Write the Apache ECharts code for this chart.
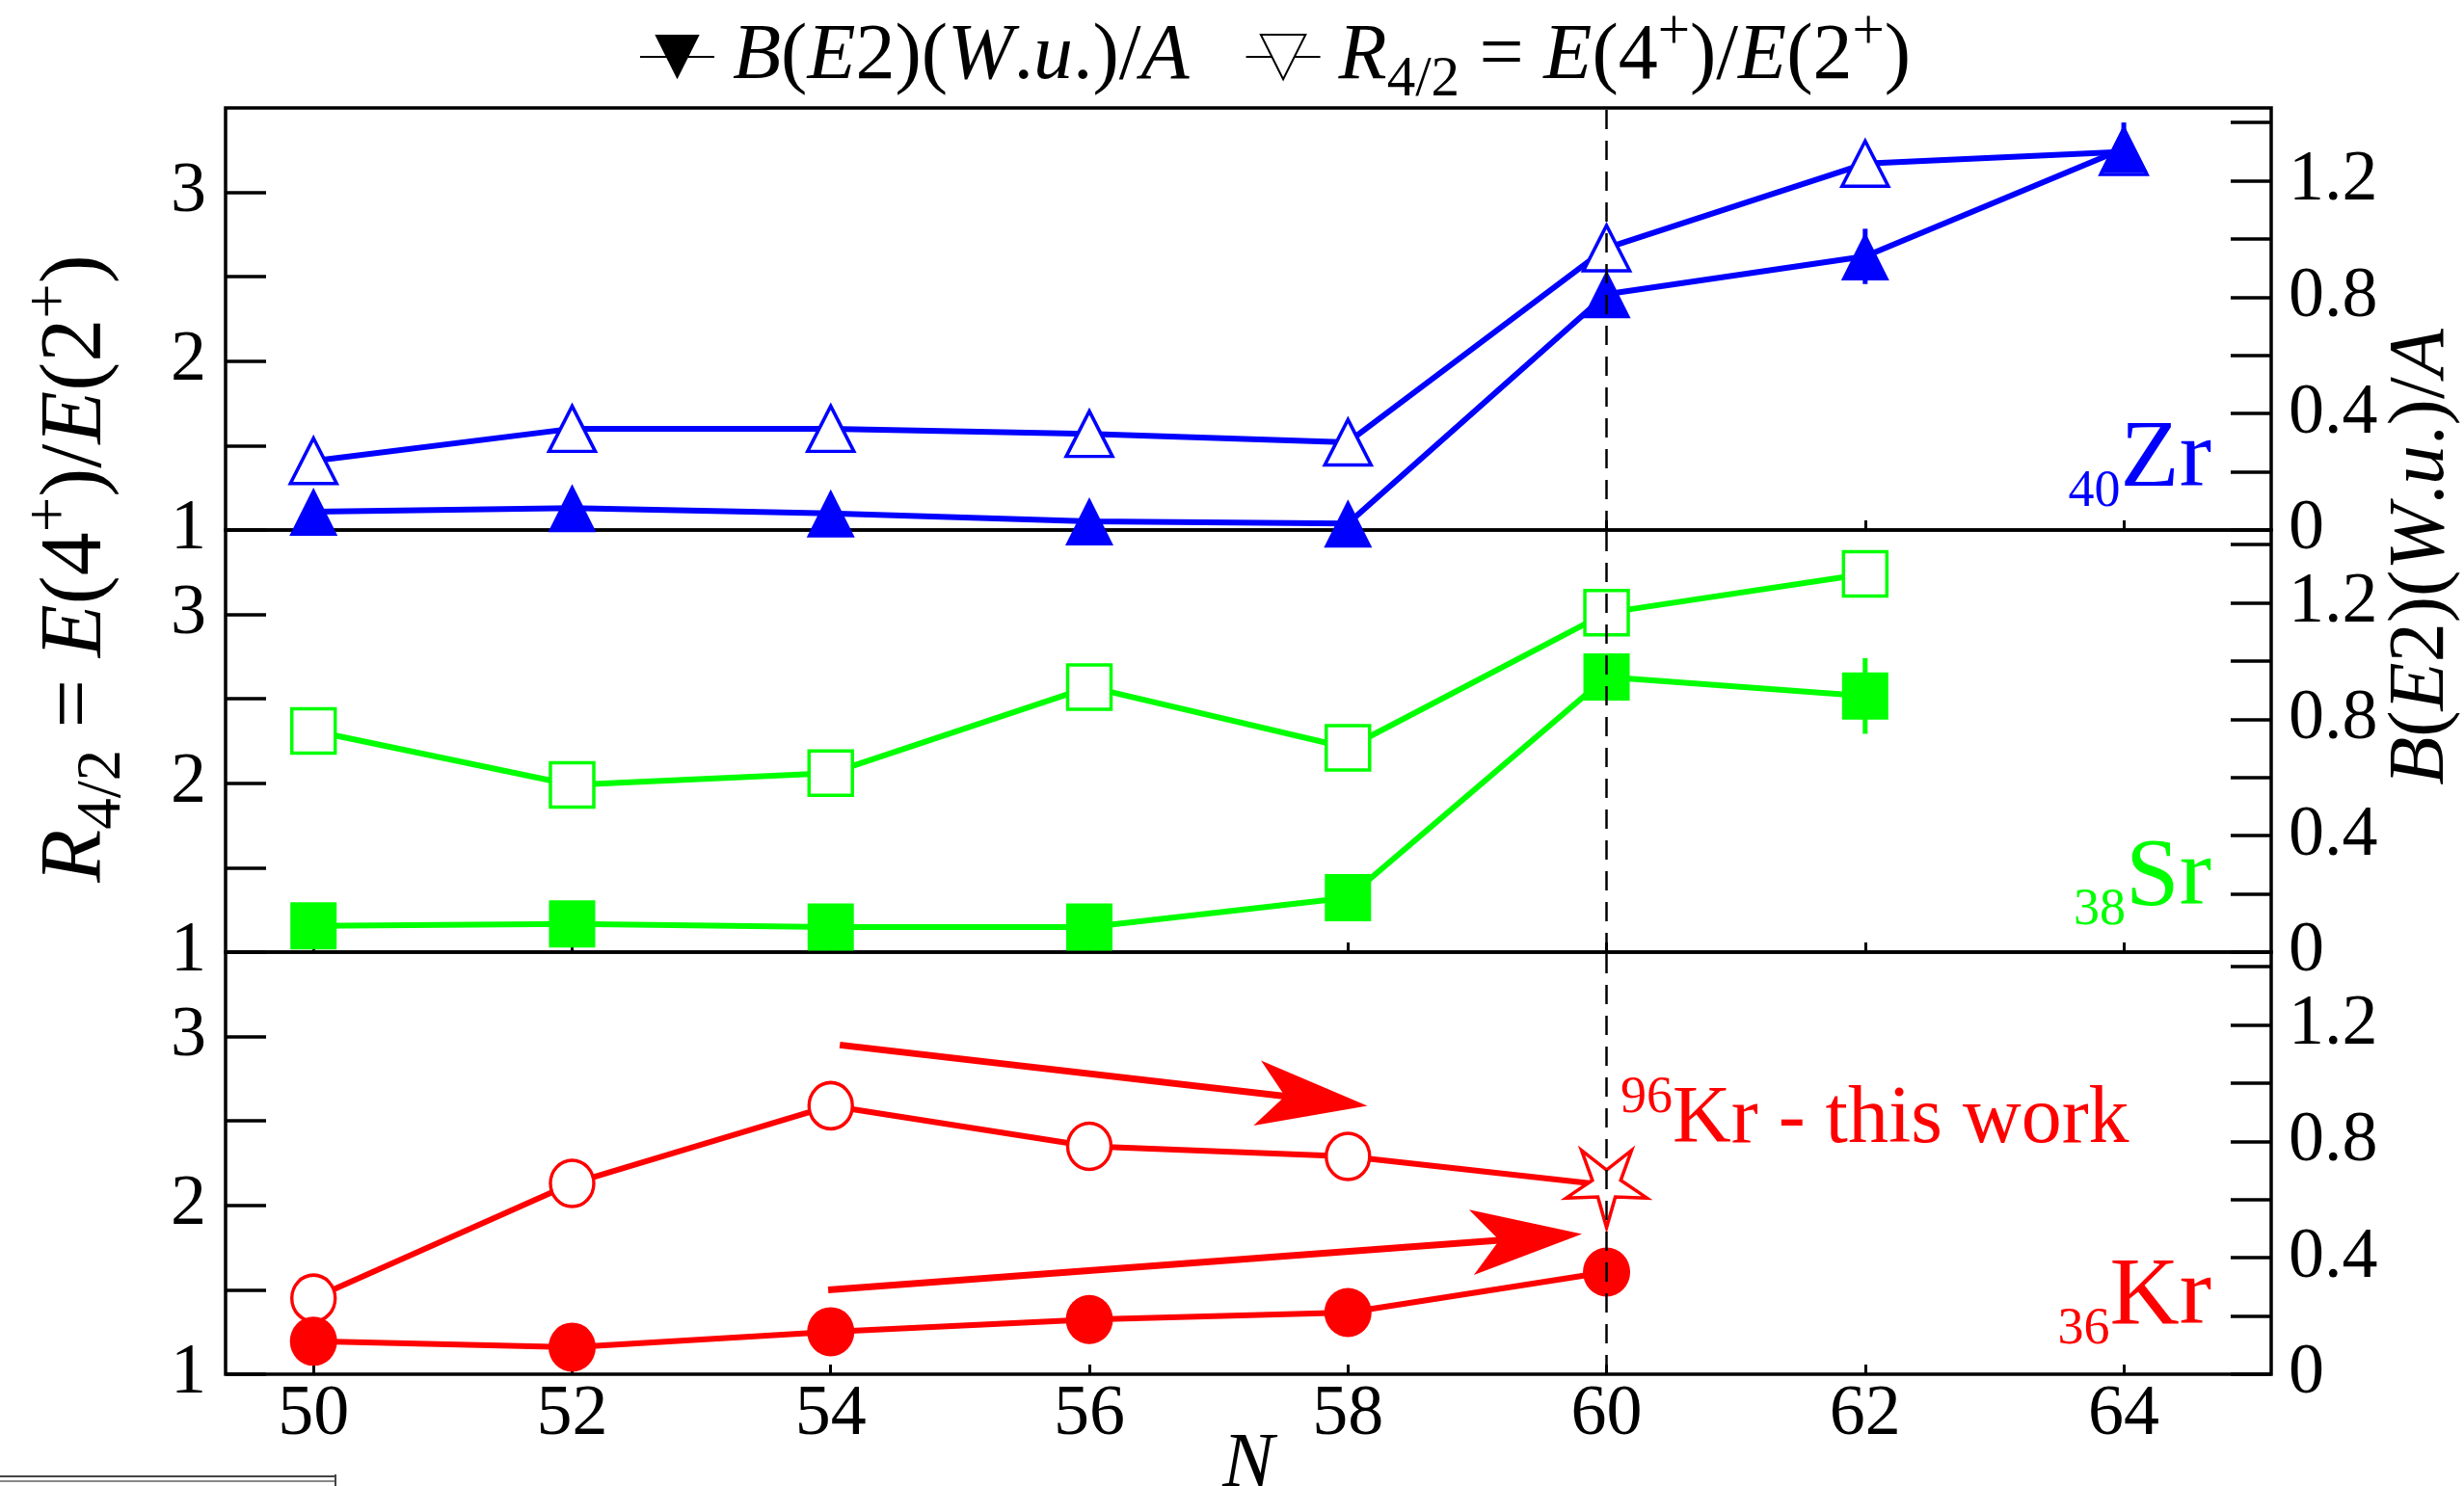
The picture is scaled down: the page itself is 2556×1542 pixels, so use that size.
<!DOCTYPE html>
<html>
<head>
<meta charset="utf-8">
<script src="https://cdn.jsdelivr.net/npm/echarts@6/dist/echarts.min.js"></script>
<style>
html,body{margin:0;padding:0;background:#fff;}
#chart{width:2556px;height:1542px;}
</style>
</head>
<body>
<div id="chart"></div>
<script>
// ---------------- data ----------------
const N_TICKS = [50, 52, 54, 56, 58, 60, 62, 64];
const R_TICKS = [1, 1.5, 2, 2.5, 3];
const R_LABELS = [1, 2, 3];
const B_TICKS = [0, 0.2, 0.4, 0.6, 0.8, 1, 1.2, 1.4];
const B_LABELS = [0, 0.4, 0.8, 1.2];

const zrN   = [50, 52, 54, 56, 58, 60, 62, 64];
const zrR42 = [1.41, 1.60, 1.60, 1.57, 1.52, 2.67, 3.17, 3.24];
const zrBE2 = [0.063, 0.075, 0.057, 0.030, 0.022, 0.81, 0.94, 1.31];
const zrErrN = [62, 64];
const zrErr  = [0.095, 0.09];

const srN   = [50, 52, 54, 56, 58, 60, 62];
const srR42 = [2.31, 1.99, 2.06, 2.57, 2.21, 3.01, 3.24];
const srBE2 = [0.090, 0.097, 0.086, 0.086, 0.187, 0.945, 0.88];
const srErrN = [62];
const srErr  = [0.13];

const krN   = [50, 52, 54, 56, 58, 60];
const krR42 = [1.45, 2.13, 2.59, 2.35, 2.29, 2.12];
const krBE2 = [0.113, 0.093, 0.146, 0.188, 0.212, 0.351];
const krThisWorkN = 60;   // 96Kr R4/2, this work

// trend arrows in the Kr panel (N, R4/2)
const arrowFrom = [[54.07, 2.95], [53.98, 1.50]];
const arrowTo   = [[58.15, 2.59], [59.81, 1.83]];

const X_MIN = 49.32, X_MAX = 65.14;
const R_MIN = 1, R_MAX = 3.5;
const B_MIN = 0, B_MAX = 1.45;

// ---------------- styling ----------------
const ZR = '#0000ff', SR = '#00ff00', KR = '#ff0000';
const FONT = "'Liberation Serif', 'Times New Roman', 'DejaVu Serif', serif";
const STAR = 'path://M0,50 L10.29,14.16 L47.55,15.45 L16.64,-5.41 L29.39,-40.45 L0,-17.5 L-29.39,-40.45 L-16.64,-5.41 L-47.55,15.45 L-10.29,14.16 Z';
const DOWN_TRI = 'path://M0,0 L10,0 L5,10 Z';

function mathRich(fs, color) {
  const c = color || '#000';
  return {
    i:   {fontFamily: FONT, fontStyle: 'italic', fontSize: fs, lineHeight: fs * 1.32, fill: c, color: c},
    n:   {fontFamily: FONT, fontSize: fs, lineHeight: fs * 1.32, fill: c, color: c},
    sub: {fontFamily: FONT, fontSize: fs * 0.72, lineHeight: fs * 0.68, verticalAlign: 'bottom', fill: c, color: c},
    sup: {fontFamily: FONT, fontSize: fs * 0.72, lineHeight: fs * 0.4, verticalAlign: 'top', fill: c, color: c},
    gap: {width: 14, fontSize: fs}
  };
}
const TXT_BE2 = '{i|B}{n|(}{i|E}{n|2)(}{i|W}{n|.}{i|u}{n|.)/}{i|A}';
const TXT_R42 = '{i|R}{sub|4/2}{n| = }{i|E}{n|(4}{sup|+}{n|)/}{i|E}{n|(2}{sup|+}{n|)}';

const GRID_TOPS = [112, 550, 988];
const GRID_H = 438;

function pairs(xs, ys) { return xs.map((x, i) => [x, ys[i]]); }
function errData(ns, errs, xs, ys) {
  return ns.map((n, k) => [n, ys[xs.indexOf(n)], errs[k]]);
}

const dashed60 = {
  silent: true, symbol: ['none', 'none'], label: {show: false},
  lineStyle: {color: '#000', width: 2.5, type: [20, 12]},
  data: [{xAxis: 60}]
};

function openStyle(c) { return {color: '#fff', borderColor: c, borderWidth: 3.5}; }

function errSeries(grid, data, color) {
  return {
    type: 'custom', xAxisIndex: grid, yAxisIndex: grid * 2 + 1, z: 1, silent: true,
    data: data,
    renderItem: function (params, api) {
      const x = api.value(0), y = api.value(1), e = api.value(2);
      const p0 = api.coord([x, y - e]), p1 = api.coord([x, y + e]);
      return {type: 'line', shape: {x1: p0[0], y1: p0[1], x2: p1[0], y2: p1[1]},
              style: {stroke: color, lineWidth: 5}};
    }
  };
}

// ---------------- axes ----------------
const grids = [], xAxes = [], yAxes = [];
for (let g = 0; g < 3; g++) {
  grids.push({left: 234, right: 200, top: GRID_TOPS[g], height: GRID_H,
              outerBoundsMode: 'none', containLabel: false,
              show: true, borderColor: '#000', borderWidth: 3.5, backgroundColor: 'transparent'});
  xAxes.push({
    type: 'value', gridIndex: g, min: X_MIN, max: X_MAX,
    axisLine: {show: false}, splitLine: {show: false},
    axisTick: {show: true, inside: true, length: 10, customValues: N_TICKS, lineStyle: {color: '#000', width: 3}},
    axisLabel: {show: g === 2, customValues: N_TICKS, fontFamily: FONT, fontSize: 74, color: '#000', margin: 6},
    name: g === 2 ? 'N' : '', nameLocation: 'middle', nameGap: 55, nameMoveOverlap: false,
    nameTextStyle: {fontFamily: FONT, fontStyle: 'italic', fontSize: 80, color: '#000'}
  });
  yAxes.push({
    type: 'value', gridIndex: g, position: 'left', min: R_MIN, max: R_MAX,
    axisLine: {show: false}, splitLine: {show: false},
    axisTick: {show: true, inside: true, length: 42, customValues: R_TICKS, lineStyle: {color: '#000', width: 3.5}},
    axisLabel: {customValues: R_LABELS, fontFamily: FONT, fontSize: 74, color: '#000', margin: 20}
  });
  yAxes.push({
    type: 'value', gridIndex: g, position: 'right', min: B_MIN, max: B_MAX,
    axisLine: {show: false}, splitLine: {show: false},
    axisTick: {show: true, inside: true, length: 42, customValues: B_TICKS, lineStyle: {color: '#000', width: 3.5}},
    axisLabel: {customValues: B_LABELS, fontFamily: FONT, fontSize: 74, color: '#000', margin: 18}
  });
}

// ---------------- series ----------------
const LW = 6;
const series = [];
// legend-only series
series.push({type: 'line', name: 'BE2', xAxisIndex: 0, yAxisIndex: 0, data: [],
  symbol: DOWN_TRI, itemStyle: {color: '#000'}, lineStyle: {color: '#000', width: 6}});
series.push({type: 'line', name: 'R42', xAxisIndex: 0, yAxisIndex: 0, data: [],
  symbol: DOWN_TRI, itemStyle: {color: '#fff', borderColor: '#000', borderWidth: 3}, lineStyle: {color: '#000', width: 6}});

// Zr
series.push({type: 'line', xAxisIndex: 0, yAxisIndex: 0, data: pairs(zrN, zrR42),
  symbol: 'triangle', symbolSize: [48, 47], itemStyle: openStyle(ZR), lineStyle: {color: ZR, width: LW},
  markLine: dashed60});
series.push(errSeries(0, errData(zrErrN, zrErr, zrN, zrBE2), ZR));
series.push({type: 'line', xAxisIndex: 0, yAxisIndex: 1, data: pairs(zrN, zrBE2),
  symbol: 'triangle', symbolSize: [50, 50], itemStyle: {color: ZR}, lineStyle: {color: ZR, width: LW}});

// Sr
series.push({type: 'line', xAxisIndex: 1, yAxisIndex: 2, data: pairs(srN, srR42),
  symbol: 'rect', symbolSize: [45, 46], itemStyle: openStyle(SR), lineStyle: {color: SR, width: LW},
  markLine: dashed60});
series.push(errSeries(1, errData(srErrN, srErr, srN, srBE2), SR));
series.push({type: 'line', xAxisIndex: 1, yAxisIndex: 3, data: pairs(srN, srBE2),
  symbol: 'rect', symbolSize: [48, 49], itemStyle: {color: SR}, lineStyle: {color: SR, width: LW}});

// Kr
series.push({type: 'line', xAxisIndex: 2, yAxisIndex: 4,
  data: krN.map((n, i) => n === krThisWorkN
    ? {value: [n, krR42[i]], symbol: STAR, symbolSize: [84, 80], symbolOffset: [0, 4]}
    : [n, krR42[i]]),
  symbol: 'circle', symbolSize: [45, 48], itemStyle: openStyle(KR), lineStyle: {color: KR, width: LW},
  markLine: dashed60});
series.push({type: 'line', xAxisIndex: 2, yAxisIndex: 5, data: pairs(krN, krBE2),
  symbol: 'circle', symbolSize: [49, 51], itemStyle: {color: KR}, lineStyle: {color: KR, width: LW}});

// trend arrows
series.push({
  type: 'custom', xAxisIndex: 2, yAxisIndex: 4, silent: true, z: 3,
  data: arrowFrom.map((a, k) => [a[0], a[1], arrowTo[k][0], arrowTo[k][1]]),
  renderItem: function (params, api) {
    const p0 = api.coord([api.value(0), api.value(1)]);
    const p1 = api.coord([api.value(2), api.value(3)]);
    const dx = p1[0] - p0[0], dy = p1[1] - p0[1];
    const len = Math.sqrt(dx * dx + dy * dy);
    const ux = dx / len, uy = dy / len, px = -uy, py = ux;
    const L = 115, W = 34, notch = 29;
    const bx = p1[0] - ux * L, by = p1[1] - uy * L;
    const nx = p1[0] - ux * (L - notch), ny = p1[1] - uy * (L - notch);
    return {type: 'group', children: [
      {type: 'line', shape: {x1: p0[0], y1: p0[1], x2: nx, y2: ny}, style: {stroke: KR, lineWidth: 7}},
      {type: 'polygon', shape: {points: [[p1[0], p1[1]], [bx + px * W, by + py * W], [nx, ny], [bx - px * W, by - py * W]]},
       style: {fill: KR}}
    ]};
  }
});

// ---------------- chart ----------------
const chart = echarts.init(document.getElementById('chart'), null, {renderer: 'canvas'});
chart.setOption({
  animation: false,
  backgroundColor: '#fff',
  textStyle: {fontFamily: FONT},
  legend: {
    data: ['BE2', 'R42'], left: 658, top: 0, itemWidth: 77, itemHeight: 58, itemGap: 58,
    selectedMode: false,
    formatter: function (name) { return '{gap| }' + (name === 'BE2' ? TXT_BE2 : TXT_R42); },
    textStyle: {fontFamily: FONT, fontSize: 82, color: '#000', rich: mathRich(82)}
  },
  grid: grids, xAxis: xAxes, yAxis: yAxes, series: series,
  graphic: [
    {type: 'text', x: 80, y: 590, rotation: Math.PI / 2, silent: true,
     style: {text: TXT_R42, rich: mathRich(90), align: 'center', verticalAlign: 'middle', fill: '#000'}},
    {type: 'text', x: 2512, y: 578, rotation: Math.PI / 2, silent: true,
     style: {text: TXT_BE2, rich: mathRich(82), align: 'center', verticalAlign: 'middle', fill: '#000'}},
    {type: 'text', x: 2294, y: 418, silent: true,
     style: {text: '{s|40}{m|Zr}', align: 'right', verticalAlign: 'top',
       rich: {s: {fontFamily: FONT, fontSize: 54, lineHeight: 66, verticalAlign: 'bottom', fill: ZR},
              m: {fontFamily: FONT, fontSize: 100, lineHeight: 120, fill: ZR}}}},
    {type: 'text', x: 2294, y: 852, silent: true,
     style: {text: '{s|38}{m|Sr}', align: 'right', verticalAlign: 'top',
       rich: {s: {fontFamily: FONT, fontSize: 54, lineHeight: 50, verticalAlign: 'bottom', fill: SR},
              m: {fontFamily: FONT, fontSize: 100, lineHeight: 120, fill: SR}}}},
    {type: 'text', x: 2294, y: 1287, silent: true,
     style: {text: '{s|36}{m|Kr}', align: 'right', verticalAlign: 'top',
       rich: {s: {fontFamily: FONT, fontSize: 54, lineHeight: 50, verticalAlign: 'bottom', fill: KR},
              m: {fontFamily: FONT, fontSize: 100, lineHeight: 120, fill: KR}}}},
    {type: 'text', x: 1681, y: 1113, silent: true,
     style: {text: '{s|96}{m|Kr - this work}', align: 'left', verticalAlign: 'top',
       rich: {s: {fontFamily: FONT, fontSize: 54, lineHeight: 56, verticalAlign: 'top', fill: KR},
              m: {fontFamily: FONT, fontSize: 84, lineHeight: 100, fill: KR}}}},
    {type: 'line', silent: true, shape: {x1: 0, y1: 1532, x2: 348, y2: 1532}, style: {stroke: '#444', lineWidth: 2}},
    {type: 'line', silent: true, shape: {x1: 0, y1: 1537, x2: 348, y2: 1537}, style: {stroke: '#888', lineWidth: 2}},
    {type: 'line', silent: true, shape: {x1: 348, y1: 1530, x2: 348, y2: 1542}, style: {stroke: '#444', lineWidth: 2}}
  ]
});
</script>
</body>
</html>
